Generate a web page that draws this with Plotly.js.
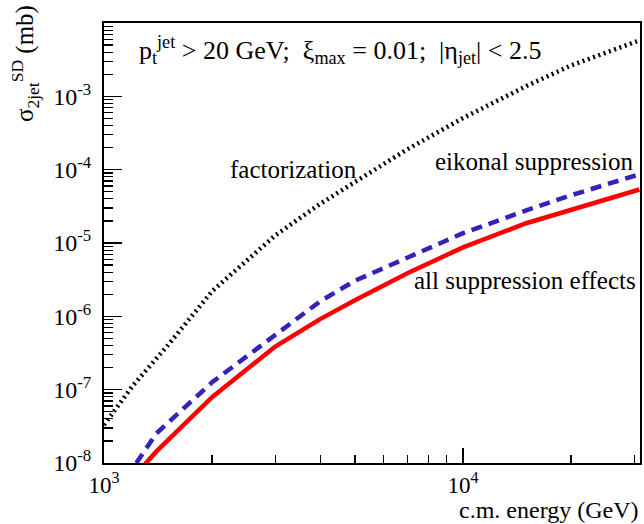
<!DOCTYPE html>
<html>
<head>
<meta charset="utf-8">
<script src="https://cdn.plot.ly/plotly-3.0.1.min.js"></script>
<style>html,body{margin:0;padding:0;background:#fff;}</style>
</head>
<body>
<div id="chart" style="width:644px;height:524px;"></div>
<script>
// c.m. energy (GeV)
const energyFact = [1000, 1200, 1500, 1750, 2000, 3000, 4000, 5000, 7000, 10000, 15000, 20000, 31000];
const sigmaFact  = [3.3e-8, 1.12e-7, 3.93e-7, 1.0e-6, 2.2e-6, 1.27e-5, 3.42e-5, 6.78e-5, 1.9e-4, 5.06e-4, 1.38e-3, 2.64e-3, 5.79e-3];

const energyEik = [1230, 1400, 2000, 3000, 4000, 5000, 7000, 10000, 15000, 20000, 31000];
const sigmaEik  = [1.0e-8, 2.54e-8, 1.26e-7, 5.58e-7, 1.6e-6, 3.06e-6, 6.32e-6, 1.36e-5, 2.78e-5, 4.48e-5, 8.63e-5];

const energyAll = [1300, 1400, 2000, 3000, 4000, 5000, 7000, 10000, 15000, 20000, 31000];
const sigmaAll  = [9.6e-9, 1.44e-8, 7.9e-8, 3.88e-7, 9.16e-7, 1.66e-6, 3.88e-6, 8.7e-6, 1.86e-5, 2.8e-5, 5.36e-5];

const xTickVals = [1e3, 1e4];
const xTickText = ['10<sup>3</sup>', '10<sup>4</sup>'];
const yTickVals = [1e-8, 1e-7, 1e-6, 1e-5, 1e-4, 1e-3];
const yTickText = ['10<sup>-8</sup>', '10<sup>-7</sup>', '10<sup>-6</sup>', '10<sup>-5</sup>', '10<sup>-4</sup>', '10<sup>-3</sup>'];

const serif = "'Liberation Serif', 'Times New Roman', serif";

const traces = [
  {x: energyFact, y: sigmaFact, mode: 'lines', line: {color: '#000000', width: 4.5, dash: '2px,3.6px'}, name: 'factorization'},
  {x: energyEik, y: sigmaEik, mode: 'lines', line: {color: '#3322bb', width: 4.5, dash: '11px,7px'}, name: 'eikonal suppression'},
  {x: energyAll, y: sigmaAll, mode: 'lines', line: {color: '#ff0000', width: 4.5}, name: 'all suppression effects'}
];

const layout = {
  width: 644, height: 524,
  margin: {l: 104, r: 4, t: 23, b: 61},
  paper_bgcolor: '#ffffff', plot_bgcolor: '#ffffff',
  showlegend: false,
  font: {family: serif, size: 24, color: '#000'},
  xaxis: {
    type: 'log', range: [3, 4.493],
    tickmode: 'array', tickvals: xTickVals, ticktext: xTickText,
    ticks: 'inside', ticklen: 15, tickwidth: 1.5, tickcolor: '#000',
    minor: {dtick: 'D1', ticks: 'inside', ticklen: 8, tickwidth: 1.2, tickcolor: '#000'},
    showline: true, linecolor: '#000', linewidth: 2, mirror: true,
    showgrid: false, zeroline: false,
    tickfont: {family: serif, size: 23, color: '#000'},
    ticklabelstandoff: 0
  },
  yaxis: {
    type: 'log', range: [-8, -2],
    tickmode: 'array', tickvals: yTickVals, ticktext: yTickText,
    ticks: 'inside', ticklen: 18, tickwidth: 1.5, tickcolor: '#000',
    minor: {dtick: 'D1', ticks: 'inside', ticklen: 9, tickwidth: 1.2, tickcolor: '#000'},
    showline: true, linecolor: '#000', linewidth: 2, mirror: true,
    showgrid: false, zeroline: false,
    tickfont: {family: serif, size: 24, color: '#000'},
    ticklabelstandoff: 6
  },
  annotations: [
    {xref: 'paper', yref: 'paper', x: 0.0616, y: 0.9386, xanchor: 'left', yanchor: 'middle', showarrow: false,
     text: 'p<sub>t</sub><sup>jet</sup> > 20 GeV;\u00A0\u00A0ξ<sub>max</sub> = 0.01;\u00A0\u00A0|η<sub>jet</sub>| < 2.5',
     font: {family: serif, size: 26, color: '#000'}},
    {xref: 'paper', yref: 'paper', x: 0.3535, y: 0.666, xanchor: 'center', yanchor: 'middle', showarrow: false,
     text: 'factorization', font: {family: serif, size: 25, color: '#000'}},
    {xref: 'paper', yref: 'paper', x: 0.9907, y: 0.686, xanchor: 'right', yanchor: 'middle', showarrow: false,
     text: 'eikonal suppression', font: {family: serif, size: 25, color: '#000'}},
    {xref: 'paper', yref: 'paper', x: 0.9963, y: 0.4159, xanchor: 'right', yanchor: 'middle', showarrow: false,
     text: 'all suppression effects', font: {family: serif, size: 25, color: '#000'}},
    {xref: 'paper', yref: 'paper', x: 1.0, y: -0.107, xanchor: 'right', yanchor: 'middle', showarrow: false,
     text: 'c.m. energy (GeV)', font: {family: serif, size: 24, color: '#000'}},
    {xref: 'paper', yref: 'paper', x: -0.1474, y: 0.909, xanchor: 'center', yanchor: 'middle', showarrow: false, textangle: -90,
     text: 'σ<sub>2jet</sub><sup>SD</sup> (mb)', font: {family: serif, size: 25, color: '#000'}}
  ]
};

Plotly.newPlot('chart', traces, layout, {displayModeBar: false, staticPlot: true});
</script>
</body>
</html>
